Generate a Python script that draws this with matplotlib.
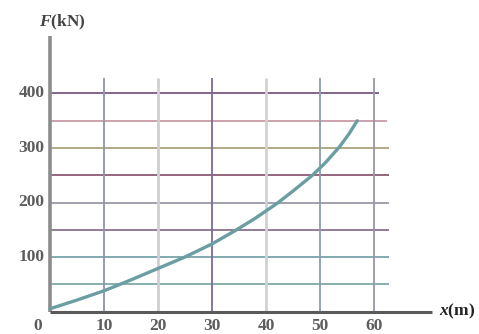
import matplotlib
matplotlib.use("Agg")
import matplotlib.pyplot as plt

plt.rcParams["mathtext.fontset"] = "custom"
plt.rcParams["mathtext.it"] = "Liberation Serif:italic:bold"
plt.rcParams["mathtext.bf"] = "Liberation Serif:italic:bold"
plt.rcParams["mathtext.rm"] = "Liberation Serif:bold"

# Force-displacement curve (x [m], F [kN])
curve_x = [0, 5, 10, 15, 20, 25, 30, 34.4, 38, 42, 45, 48.6, 51, 53.6, 55.3, 56.9]
curve_f = [5, 21, 38, 58, 79, 100, 124, 149, 171, 198, 221, 250, 273, 302, 325, 350]

x_ticks = [10, 20, 30, 40, 50, 60]
x_tick_labels = ["10", "20", "30", "40", "50", "60"]
f_ticks = [100, 200, 300, 400]
f_tick_labels = ["100", "200", "300", "400"]
f_grid = [50, 100, 150, 200, 250, 300, 350, 400]

grid_h_colors = ["#7fa9a6", "#78a4a8", "#8b6f8e", "#9a9aa6", "#8e5a74", "#aaa27a", "#c89aa6", "#7a5a82"]
grid_v_colors = ["#8f94ad", "#cfcfd4", "#7d6a9a", "#d2d2d2", "#8a9cb4", "#9a94aa"]

W, H = 479, 334
fig = plt.figure(figsize=(W / 100, H / 100), dpi=100)
ax = fig.add_axes([0, 0, 1, 1])

# pixel geometry: origin at (50, 311.5), 5.4 px per metre, 0.545 px per kN
px_x, px_f = 5.4, 0.545
ox, oy = 50, H - 311.5
ax.set_xlim(-ox / px_x, (W - ox) / px_x)
ax.set_ylim(-oy / px_f, (H - oy) / px_f)
ax.axis("off")

# horizontal grid lines
for f, c in zip(f_grid, grid_h_colors):
    x_end = 61 if f == 400 else (62.4 if f == 350 else 62.8)
    ax.plot([0, x_end], [f, f], color=c, lw=1.3, solid_capstyle="butt", zorder=1)

# vertical grid lines
for x, c in zip(x_ticks, grid_v_colors):
    lw = 2.0 if c in ("#cfcfd4", "#d2d2d2") else 1.3
    ax.plot([x, x], [0, 428], color=c, lw=lw, solid_capstyle="butt", zorder=1)

# axes
ax.plot([0, 0], [0, 505], color="#8c8c8c", lw=2.6, solid_capstyle="butt", zorder=2)
ax.plot([0, 70.7], [0, 0], color="#5a5a5a", lw=2.2, solid_capstyle="butt", zorder=2)

# curve
ax.plot(curve_x, curve_f, color="#6a9ea2", lw=2.4, solid_capstyle="round",
        solid_joinstyle="round", zorder=3)

serif = "Liberation Serif"
lbl_color = "#5c5c5c"
fs = 12.5
for x, t in zip(x_ticks, x_tick_labels):
    ax.text(x, -27.5, t, ha="center", va="center", fontsize=fs, family=serif,
            fontweight="bold", color=lbl_color)
ax.text(-2.2, -27.5, "0", ha="center", va="center", fontsize=fs, family=serif,
        fontweight="bold", color=lbl_color)
for f, t in zip(f_ticks, f_tick_labels):
    ax.text(-1.0, f, t, ha="right", va="center", fontsize=fs, family=serif,
            fontweight="bold", color=lbl_color)

ax.text(75.3, 0, r"$x$(m)", ha="center", va="center", fontsize=fs,
        family=serif, fontweight="bold", color="#222222")
ax.text(2.2, 531, r"$F$(kN)", ha="center", va="center", fontsize=fs,
        family=serif, fontweight="bold", color="#444444")

fig.savefig("out.png", dpi=100, facecolor="white")
